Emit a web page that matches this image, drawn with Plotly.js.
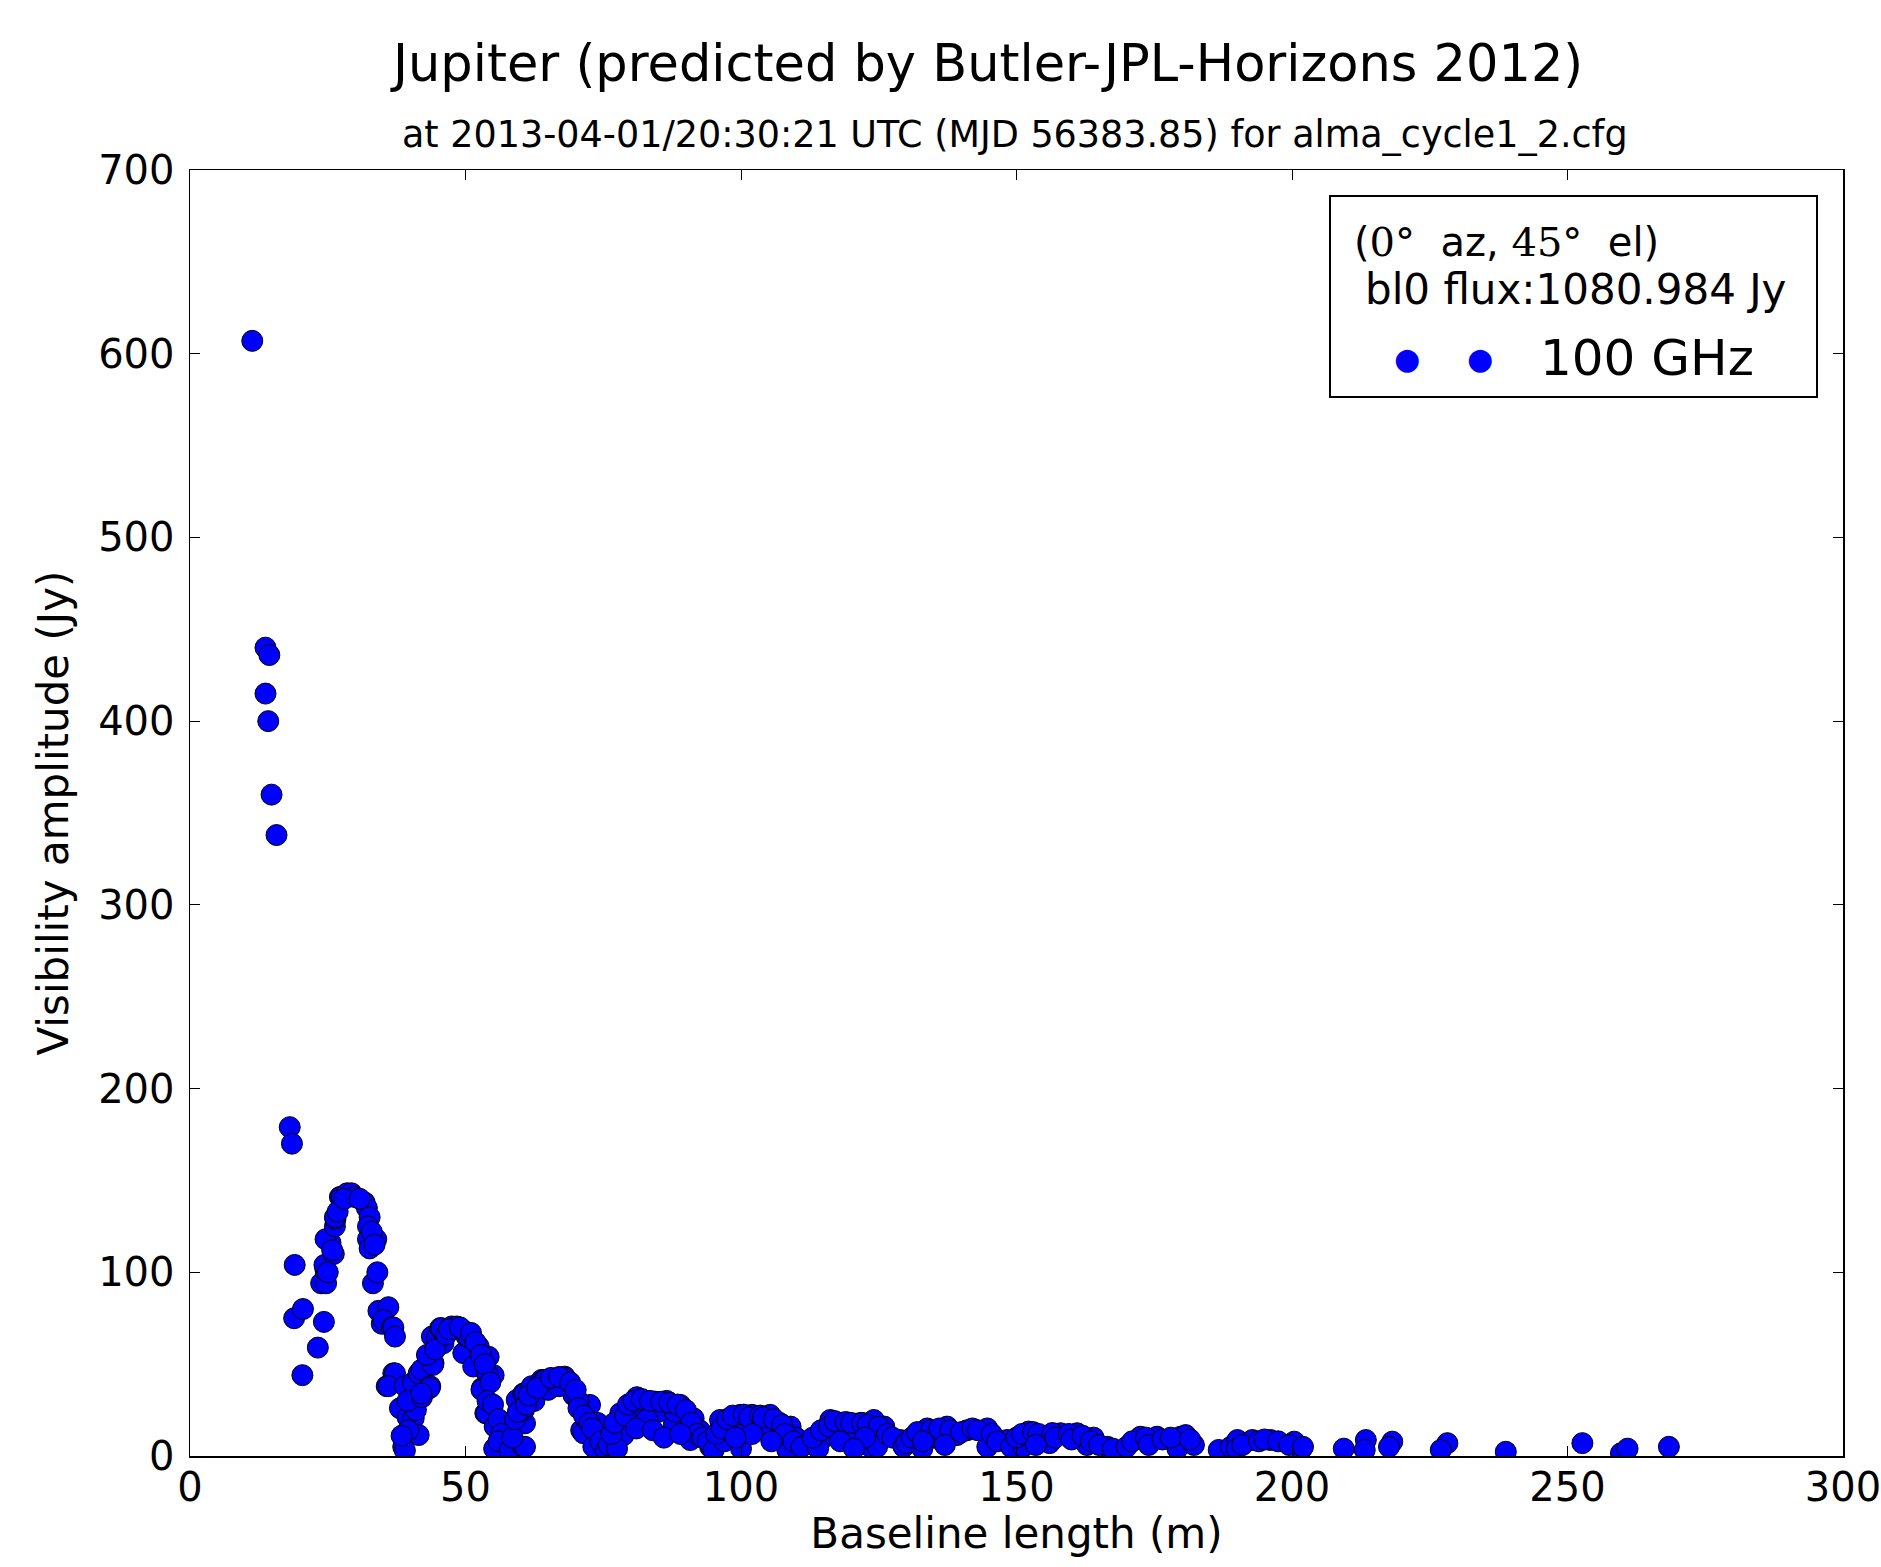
<!DOCTYPE html>
<html>
<head>
<meta charset="utf-8">
<script src="https://cdn.plot.ly/plotly-3.0.1.min.js"></script>
<style>
  html, body { margin: 0; padding: 0; background: #ffffff; }
  #chart { width: 1881px; height: 1567px; }
</style>
</head>
<body>
<div id="chart"></div>
<script>
// Baseline length (m)
const baselineLength = [
  11.3, 13.7, 14.4, 13.7, 14.2, 14.8, 15.7,
  18.1, 18.5, 19.0, 18.9, 20.5, 20.4, 23.2, 24.3, 23.8, 24.7, 24.6, 24.4, 25.5, 26.1, 24.6, 26.3, 26.4, 26.3, 27.2, 27.5, 28.5, 29.3, 29.9, 31.7, 32.1, 32.6, 32.3, 32.3, 33.8, 32.6, 33.2,
  25.0, 25.8, 26.8, 28.0, 30.8, 33.0, 33.5, 34.0,
  34.2, 34.8, 36.0, 35.1, 36.6, 36.9, 37.2, 36.9, 35.7, 37.2, 36.0, 39.0, 38.1, 39.5, 40.6, 41.5, 39.6, 38.7, 39.0, 38.4,
  40.0, 41.0, 40.5, 41.5, 39.5,
  42.4, 42.0, 43.6, 43.5, 42.1, 42.0, 44.2, 44.1, 43.9, 44.8, 45.4, 45.6, 46.0, 47.5, 48.4, 49.6, 49.8, 50.2, 50.5, 52.4, 51.4, 54.2, 55.1, 53.9, 53.0, 52.9, 53.6, 53.8, 55.4, 55.3, 57.5, 57.7, 57.0, 55.2,
  43.0, 44.5, 46.5, 47.0, 49.0, 51.0, 51.8, 52.8, 53.5, 54.5, 54.0, 55.0, 56.0, 56.5, 56.0, 58.0,
  60.5, 60.8, 60.5, 60.8, 60.6, 60.5, 59.3, 60.5, 60.8, 62.0, 63.8, 64.2, 64.5, 66.6, 68.0, 68.1, 69.1, 69.6, 71.0, 71.4, 72.6, 75.1, 73.2, 70.5, 72.0, 62.5, 65.0, 67.0, 74.0,
  58.5, 59.0, 59.5, 61.0, 61.5, 63.0, 65.5, 67.0, 69.0, 70.0, 70.5, 71.5, 72.5, 73.0, 74.5, 75.5, 76.0,
  78.1, 78.7, 77.5, 81.1, 84.4, 86.5, 89.0, 91.4, 87.8, 90.8, 94.4, 80.0, 82.5, 85.0, 88.0, 92.5, 83.0,
  76.5, 77.0, 79.0, 79.5, 80.5, 82.0, 83.5, 85.5, 87.0, 88.5, 90.0, 91.0, 92.0, 93.0, 94.0, 95.0, 81.0, 84.0, 86.0, 89.0,
  96.2, 99.9, 102.0, 105.3, 104.7, 109.0, 108.4, 112.6, 98.0, 101.0, 103.0, 107.0, 97.0, 100.0, 110.0,
  95.5, 96.5, 97.5, 98.5, 100.5, 101.5, 103.5, 104.0, 106.0, 107.5, 108.0, 109.5, 111.0, 102.0, 105.5, 99.0,
  116.2, 118.0, 121.1, 121.7, 123.5, 124.1, 124.7, 128.9, 126.0, 119.0, 115.0, 114.0,
  113.0, 114.5, 116.0, 117.0, 119.0, 120.0, 122.0, 123.0, 125.0, 126.5, 127.5, 129.5, 118.0, 122.5, 120.5,
  133.8, 137.4, 139.2, 132.9, 144.7, 144.7, 148.3, 135.0, 141.0, 130.0,
  131.0, 132.0, 134.5, 136.0, 138.0, 140.0, 142.0, 143.0, 145.5, 146.5, 149.0, 137.0, 133.0,
  152.2, 151.2, 155.0, 158.0, 161.0, 162.8, 166.5, 164.0, 156.0,
  150.0, 151.0, 153.0, 154.0, 156.5, 157.0, 159.5, 160.0, 162.0, 163.5, 165.0, 167.5, 153.5,
  172.5, 175.5, 179.8, 179.2, 180.7, 182.2, 170.0, 186.7, 188.9, 190.1, 192.8, 196.1, 200.4, 201.6,
  171.0, 173.5, 174.0, 176.5, 178.0, 181.5, 190.0, 191.0, 194.0, 195.0, 197.5, 199.5, 202.0,
  209.4, 213.4, 213.2, 218.2, 217.6, 228.2, 227.0, 238.8, 252.7, 259.7, 260.9, 268.4
];
// Visibility amplitude (Jy)
const visibilityAmplitude = [
  607, 440, 436, 415, 400, 360, 338,
  179, 170, 104, 75, 80, 44, 59, 73, 94, 94, 101, 104, 116, 110, 118, 125, 129, 130, 141, 141, 143, 143, 141, 138, 135, 130, 125, 118, 118, 113, 94,
  100, 112, 133, 140, 140, 122, 115, 100,
  79, 72, 81, 74, 70, 70, 65, 45, 38, 45, 38, 38, 26, 21, 20.5, 11.4, 14, 5, 3, 11,
  30, 25, 40, 45, 30,
  47, 47, 38, 37, 32, 34, 50.5, 49.6, 65, 64, 69.6, 69.6, 61.4, 70.5, 70.5, 56, 68, 65, 65, 59.6, 48.7, 54, 44, 45, 37, 36, 23.3, 23.3, 16, 16, 7, 6, 3, 4,
  55, 58, 66, 69, 70, 67, 62, 55, 50, 40, 30, 28, 20, 12, 8, 3,
  5, 5, 17.8, 17.8, 25, 26, 30.5, 34, 34, 38, 41.4, 41.4, 41.4, 42, 43.2, 42.4, 38, 33, 14, 12.4, 27.8, 10.5, 5, 30, 20, 30, 36, 38, 18,
  10, 20, 24, 28, 33, 37, 42.5, 43, 40, 36, 26, 22, 18, 15, 8, 3, 6,
  23.3, 11.4, 4, 32, 29.6, 30, 27.8, 20.5, 17, 8.7, 5, 26, 30, 24, 24, 14, 20,
  12, 18, 22, 28, 30, 31, 30, 29.5, 29, 28, 25, 18, 12, 10, 8, 3, 15, 14, 10, 12,
  19.6, 22.4, 22.4, 22.4, 14.2, 16, 3.3, 7, 15, 18, 20, 18, 8, 4, 10,
  12, 15, 20, 22, 22.5, 21, 22, 21, 20, 17, 12, 8, 5, 12, 8, 10,
  19.6, 18, 17, 18, 5, 19.6, 5, 8.7, 16, 12, 10, 4,
  10, 14, 16, 19, 18.5, 18, 18, 17, 16, 12, 10, 5, 8, 10, 4,
  15, 16, 11.4, 4, 15, 5, 8.7, 10, 14, 7,
  10, 13, 14, 15, 14, 13, 15, 14, 12, 8, 5, 6, 8,
  13.3, 5, 11, 12.4, 12.4, 6, 5, 10, 7,
  10, 12, 13, 12, 12.5, 10, 12, 9, 11, 8, 6, 4, 6,
  10.5, 10.5, 10.5, 4, 11.4, 6, 5, 3.3, 5, 8.7, 8.7, 8.7, 7.8, 3.3,
  8, 10, 6, 9, 10, 9, 4, 6, 8, 9, 8, 6, 5,
  4, 8.7, 3.3, 7.8, 5, 7, 3.3, 2.3, 7, 1.5, 4, 5
];
const seriesName = '100 GHz';
const xTickValues = [0, 50, 100, 150, 200, 250, 300];
const yTickValues = [0, 100, 200, 300, 400, 500, 600, 700];

const titleText = 'Jupiter (predicted by Butler-JPL-Horizons 2012)';
const subtitleText = 'at 2013-04-01/20:30:21 UTC (MJD 56383.85) for alma_cycle1_2.cfg';
const legendLine1 = '(<span style="font-family:\'DejaVu Serif\'">0°</span>  az, <span style="font-family:\'DejaVu Serif\'">45°</span>  el)';
const legendLine2 = 'bl0 flux:1080.984 Jy';

const FONT = 'DejaVu Sans, sans-serif';
const W = 1881, H = 1567;
const mL = 190, mR = 38, mT = 170, mB = 111;
const pw = W - mL - mR, ph = H - mT - mB;
const px = fx => (fx - mL) / pw;          // page px -> paper x
const py = fy => (H - mB - fy) / ph;      // page px -> paper y

const trace = {
  type: 'scatter',
  mode: 'markers',
  x: baselineLength,
  y: visibilityAmplitude,
  name: seriesName,
  marker: { color: '#0000ff', size: 21, line: { color: '#000000', width: 1 } },
  showlegend: false,
  cliponaxis: true
};

const axisCommon = {
  showgrid: false,
  zeroline: false,
  showline: true,
  linecolor: '#000000',
  linewidth: 1.5,
  mirror: 'ticks',
  ticks: 'inside',
  ticklen: 10,
  tickwidth: 1,
  tickcolor: '#000000',
  ticklabeloverflow: 'allow',
  tickfont: { family: FONT, size: 40, color: '#000000' },
  automargin: false
};

const layout = {
  width: W,
  height: H,
  paper_bgcolor: '#ffffff',
  plot_bgcolor: '#ffffff',
  margin: { l: mL, r: mR, t: mT, b: mB, pad: 0 },
  showlegend: false,
  xaxis: Object.assign({}, axisCommon, {
    range: [0, 300],
    tickvals: xTickValues,
    ticktext: xTickValues.map(String),
    ticklabelstandoff: -5,
    title: { text: 'Baseline length (m)', font: { family: FONT, size: 42, color: '#000000' }, standoff: 10 }
  }),
  yaxis: Object.assign({}, axisCommon, {
    range: [0, 700],
    tickvals: yTickValues,
    ticktext: yTickValues.map(String),
    ticklabelstandoff: 6,
    title: { text: 'Visibility amplitude (Jy)', font: { family: FONT, size: 42, color: '#000000' }, standoff: 16 }
  }),
  shapes: [
    { type: 'rect', xref: 'paper', yref: 'paper',
      x0: px(1330), x1: px(1817), y0: py(397), y1: py(196),
      line: { color: '#000000', width: 2 }, fillcolor: '#ffffff', layer: 'above' }
  ],
  annotations: [
    { xref: 'paper', yref: 'paper', x: px(986), y: py(64), xanchor: 'center', yanchor: 'middle',
      text: titleText, showarrow: false, font: { family: FONT, size: 51, color: '#000000' } },
    { xref: 'paper', yref: 'paper', x: px(1015), y: py(134), xanchor: 'center', yanchor: 'middle',
      text: subtitleText, showarrow: false, font: { family: FONT, size: 36.5, color: '#000000' } },
    { xref: 'paper', yref: 'paper', x: px(1352), y: py(242), xanchor: 'left', yanchor: 'middle',
      text: legendLine1, showarrow: false, font: { family: FONT, size: 40, color: '#000000' } },
    { xref: 'paper', yref: 'paper', x: px(1363), y: py(289), xanchor: 'left', yanchor: 'middle',
      text: legendLine2, showarrow: false, font: { family: FONT, size: 42, color: '#000000' } },
    { xref: 'paper', yref: 'paper', x: px(1407), y: py(358), xanchor: 'center', yanchor: 'middle',
      text: '●', showarrow: false, font: { family: FONT, size: 30, color: '#0000ff' } },
    { xref: 'paper', yref: 'paper', x: px(1480), y: py(358), xanchor: 'center', yanchor: 'middle',
      text: '●', showarrow: false, font: { family: FONT, size: 30, color: '#0000ff' } },
    { xref: 'paper', yref: 'paper', x: px(1538), y: py(358), xanchor: 'left', yanchor: 'middle',
      text: seriesName, showarrow: false, font: { family: FONT, size: 50, color: '#000000' } }
  ]
};

Plotly.newPlot('chart', [trace], layout, { displayModeBar: false, staticPlot: true });
</script>
</body>
</html>
